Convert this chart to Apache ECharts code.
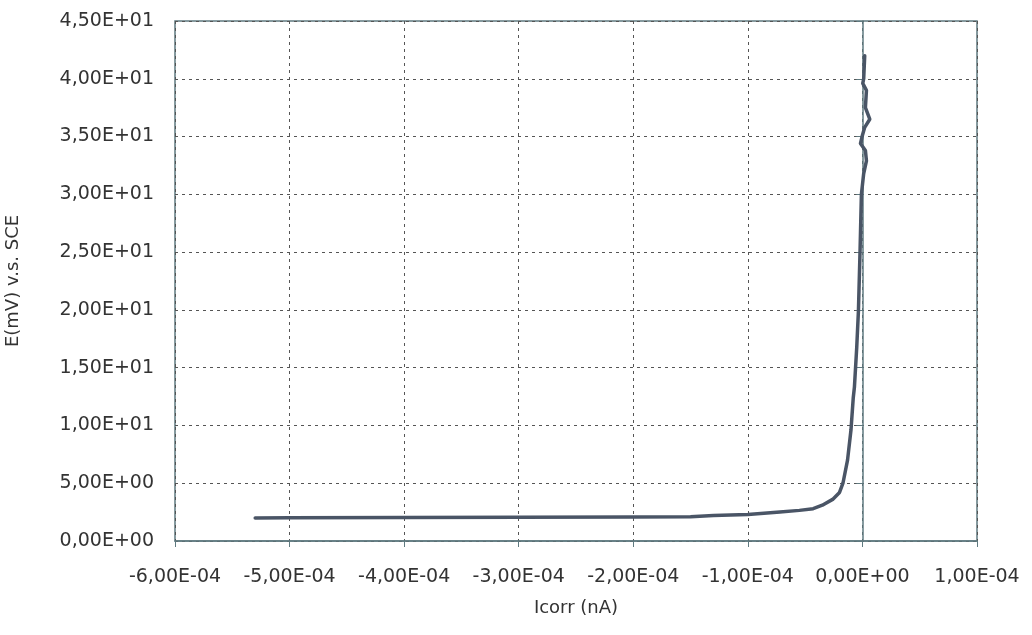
<!DOCTYPE html>
<html>
<head>
<meta charset="utf-8">
<script src="https://cdn.jsdelivr.net/npm/echarts@6/dist/echarts.min.js"></script>
<style>html,body{margin:0;padding:0;background:#fff}#c{width:1032px;height:635px}</style>
</head>
<body>
<div id="c"></div>
<script>
// Icorr (as labelled) and potential E (mV)
const icorr = [-5.30e-4, -5.00e-4, -4.00e-4, -3.00e-4, -2.00e-4, -1.50e-4, -1.30e-4, -1.00e-4,
  -0.72e-4, -0.55e-4, -0.43e-4, -0.35e-4, -0.26e-4, -0.20e-4, -0.17e-4, -0.13e-4, -0.10e-4,
  -0.08e-4, -0.07e-4, -0.05e-4, -0.035e-4, -0.02e-4, -0.9e-6, 1.1e-6, 3.5e-6, 2.6e-6,
  -1.7e-6, -0.3e-6, 2.0e-6, 6.4e-6, 2.6e-6, 3.5e-6, 0.3e-6, 1.1e-6, 2.0e-6];
const potential = [2.0, 2.02, 2.03, 2.05, 2.07, 2.1, 2.2, 2.3,
  2.5, 2.65, 2.8, 3.1, 3.6, 4.2, 5.0, 7.0, 9.6,
  12.4, 13.3, 16.7, 19.9, 25.4, 30.0, 31.8, 32.9, 33.8,
  34.4, 35.0, 35.8, 36.5, 37.5, 39.0, 39.6, 40.0, 42.0];
const xAxisName = 'Icorr (nA)';
const yAxisName = 'E(mV) v.s. SCE';

function sci(v) {
  if (Math.abs(v) < 1e-12) return '0,00E+00';
  let s = v.toExponential(2);
  let parts = s.split('e');
  let mant = parts[0].replace('.', ',');
  let exp = parseInt(parts[1], 10);
  let sign = exp < 0 ? '-' : '+';
  let e = String(Math.abs(exp)).padStart(2, '0');
  return mant + 'E' + sign + e;
}

const font = 'DejaVu Sans, Verdana, sans-serif';
const chart = echarts.init(document.getElementById('c'));
chart.setOption({
  backgroundColor: '#ffffff',
  animation: false,
  grid: { left: 175, right: 55, top: 21, bottom: 94, outerBoundsMode: 'none', containLabel: false,
    show: true, borderColor: '#5f7a80', borderWidth: 1.5, backgroundColor: 'transparent' },
  xAxis: {
    type: 'value', min: -6e-4, max: 1e-4, interval: 1e-4,
    name: xAxisName, nameLocation: 'middle', nameGap: 58,
    nameTextStyle: { fontFamily: font, fontSize: 18, color: '#333' },
    axisLine: { onZero: false, lineStyle: { color: '#5f7a80', width: 1.5 } },
    axisTick: { show: true, length: 6, lineStyle: { color: '#5f7a80' } },
    axisLabel: { formatter: sci, fontFamily: font, fontSize: 19, color: '#333', margin: 27 },
    splitLine: { show: true, lineStyle: { color: '#555', type: [3, 4], width: 1 } }
  },
  yAxis: {
    type: 'value', min: 0, max: 45, interval: 5,
    name: yAxisName, nameLocation: 'middle', nameGap: 153,
    nameTextStyle: { fontFamily: font, fontSize: 18, color: '#333' },
    axisLine: { show: true, lineStyle: { color: '#5f7a80', width: 1.5 } },
    axisTick: { show: true, length: 6, lineStyle: { color: '#5f7a80' } },
    axisLabel: { formatter: sci, fontFamily: font, fontSize: 19, color: '#333', margin: 21 },
    splitLine: { show: true, lineStyle: { color: '#555', type: [3, 4], width: 1 } }
  },
  series: [{
    type: 'line',
    data: icorr.map((x, i) => [x, potential[i]]),
    showSymbol: false,
    smooth: false,
    lineStyle: { color: '#4a5566', width: 3.5, join: 'round', cap: 'round' },
    itemStyle: { color: '#4a5566' }
  }]
});
</script>
</body>
</html>
